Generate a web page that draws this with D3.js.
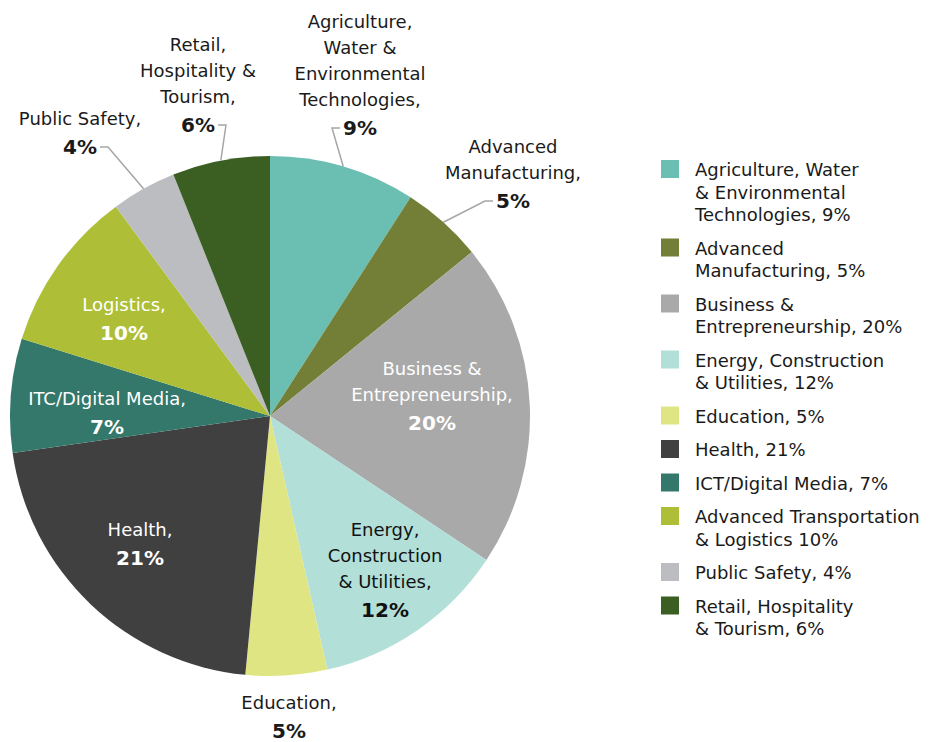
<!DOCTYPE html>
<html>
<head>
<meta charset="utf-8">
<script src="https://cdn.jsdelivr.net/npm/d3@7"></script>
<style>
  body { margin: 0; background: #fff; }
  svg text { font-family: "DejaVu Sans", sans-serif; }
</style>
</head>
<body>
<svg id="chart" width="930" height="742"></svg>
<script>
// slice names as written on the pie (line breaks with |)
const sliceLabels = [
  'Agriculture,|Water &|Environmental|Technologies,',
  'Advanced|Manufacturing,',
  'Business &|Entrepreneurship,',
  'Energy,|Construction|& Utilities,',
  'Education,',
  'Health,',
  'ITC/Digital Media,',
  'Logistics,',
  'Public Safety,',
  'Retail,|Hospitality &|Tourism,'
]
const legendLabels = [
  'Agriculture, Water|& Environmental|Technologies, 9%',
  'Advanced|Manufacturing, 5%',
  'Business &|Entrepreneurship, 20%',
  'Energy, Construction|& Utilities, 12%',
  'Education, 5%',
  'Health, 21%',
  'ICT/Digital Media, 7%',
  'Advanced Transportation|& Logistics 10%',
  'Public Safety, 4%',
  'Retail, Hospitality|& Tourism, 6%'
]
const values = [9, 5, 20, 12, 5, 21, 7, 10, 4, 6]
const colors = ['#6bbfb2', '#737e36', '#a9a9a9', '#b2dfd8', '#e0e584',
                '#404041', '#33786a', '#aebf37', '#bcbdc1', '#3b5e22']

// label layout: block centre relative to pie centre, text colour, leader side
const labelLayout = [
  {dx: 90, dy: -342, fill: '#1a1a1a', leader: 'left'},
  {dx: 243, dy: -243, fill: '#1a1a1a', leader: 'left'},
  {dx: 162, dy: -21, fill: '#ffffff'},
  {dx: 115, dy: 153, fill: '#111111'},
  {dx: 19, dy: 300, fill: '#1a1a1a'},
  {dx: -130, dy: 127, fill: '#ffffff'},
  {dx: -163, dy: -4, fill: '#ffffff'},
  {dx: -146, dy: -98, fill: '#ffffff'},
  {dx: -190, dy: -284, fill: '#1a1a1a', leader: 'right'},
  {dx: -72, dy: -332, fill: '#1a1a1a', leader: 'right'}
]

const cx = 270, cy = 416, radius = 260
const lineH = 26
const fontSize = 18

let svg = d3.select('#chart')
let g = svg.append('g').attr('transform', `translate(${cx},${cy})`)

let pie = d3.pie().sort(null).value(d => d)
let arcs = pie(values)
let arc = d3.arc().innerRadius(0).outerRadius(radius)

g.selectAll('path.slice')
  .data(arcs)
  .enter().append('path')
  .attr('class', 'slice')
  .attr('d', arc)
  .attr('fill', (d, i) => colors[i])

// data labels
arcs.forEach((a, i) => {
  let lay = labelLayout[i]
  let lines = sliceLabels[i].split('|')
  let n = lines.length + 1
  let top = lay.dy - (n - 1) / 2 * lineH
  lines.forEach((t, j) => {
    g.append('text')
      .attr('x', lay.dx)
      .attr('y', top + j * lineH)
      .attr('dy', '0.35em')
      .attr('text-anchor', 'middle')
      .attr('font-size', fontSize)
      .attr('fill', lay.fill)
      .text(t)
  })
  let py = top + lines.length * lineH + 2
  let pct = g.append('text')
    .attr('x', lay.dx)
    .attr('y', py)
    .attr('dy', '0.35em')
    .attr('text-anchor', 'middle')
    .attr('font-size', 20)
    .attr('font-weight', 'bold')
    .attr('fill', lay.fill)
    .text(values[i] + '%')

  if (lay.leader) {
    let w = pct.node().getComputedTextLength()
    let sgn = lay.leader === 'left' ? -1 : 1
    let x0 = lay.dx + sgn * (w / 2 + 3)
    let x1 = x0 + sgn * 8
    let mid = (a.startAngle + a.endAngle) / 2
    let px = Math.sin(mid) * radius
    let pyy = -Math.cos(mid) * radius
    g.append('path')
      .attr('d', d3.line()([[x0, py], [x1, py], [px, pyy]]))
      .attr('fill', 'none')
      .attr('stroke', '#a6a6a6')
      .attr('stroke-width', 1.5)
  }
})

// legend
let legend = svg.append('g').attr('transform', 'translate(661,160)')
let ly = 0
legendLabels.forEach((lab, i) => {
  let lines = lab.split('|')
  legend.append('rect')
    .attr('x', 0).attr('y', ly)
    .attr('width', 18).attr('height', 18)
    .attr('fill', colors[i])
  lines.forEach((t, j) => {
    legend.append('text')
      .attr('x', 34)
      .attr('y', ly + 16 + j * 22.5)
      .attr('font-size', fontSize)
      .attr('fill', '#1a1a1a')
      .text(t)
  })
  ly += lines.length * 22.5 + 11
})
</script>
</body>
</html>
